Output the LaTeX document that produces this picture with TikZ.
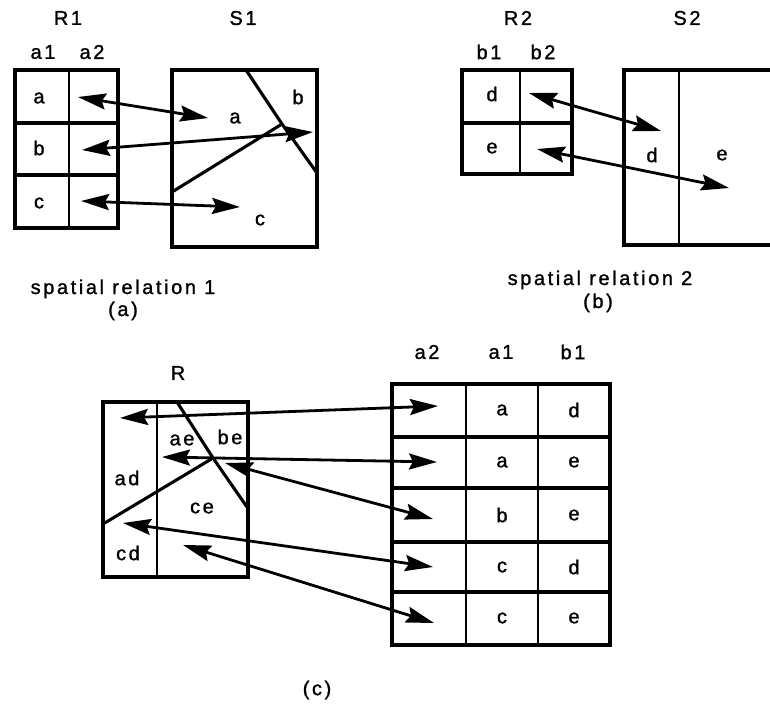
\documentclass[tikz,border=0pt]{standalone}
\usepackage{fontspec}
\setmainfont{Liberation Sans}[LetterSpace=13, FakeBold=1.2]
\usetikzlibrary{arrows.meta}
\begin{document}
\begin{tikzpicture}[x=1pt,y=-1pt,
  lbl/.style={inner sep=0pt, font=\fontsize{20}{24}\selectfont},
  frame/.style={line width=3.3pt},
  divider/.style={line width=2.6pt},
  cut/.style={line width=3.1pt, line join=round},
  link/.style={line width=2.8pt,
    {Stealth[length=28pt,width=16pt,inset=4pt]}-{Stealth[length=28pt,width=16pt,inset=4pt]}},
]
\useasboundingbox (0,0) rectangle (770,709);

% ---------- (a) relation R1 and space S1 ----------
\node[lbl] (R1) at (68,18) {R1};
\node[lbl] (S1) at (243,18) {S1};
\node[lbl] (h-a1) at (43,52) {a1};
\node[lbl] (h-a2) at (92,52) {a2};

\draw[frame] (15,70) rectangle (118,228);
\draw[divider] (69,70) -- (69,228);
\draw[frame] (15,123) -- (118,123) (15,175) -- (118,175);
\node[lbl] (r1-a) at (39,98) {a};
\node[lbl] (r1-b) at (39,148) {b};
\node[lbl] (r1-c) at (39,203) {c};

\draw[frame] (172,70) rectangle (317,247);
\coordinate (s1-top) at (246,70);
\coordinate (s1-mid) at (282,124);
\coordinate (s1-right) at (317,173);
\coordinate (s1-left) at (172,192);
\draw[cut] (s1-top) -- (s1-mid) -- (s1-right);
\draw[cut] (s1-left) -- (s1-mid);
\node[lbl] (s1-a) at (235,118) {a};
\node[lbl] (s1-b) at (298,97) {b};
\node[lbl] (s1-c) at (260,220) {c};

\coordinate (pa1) at (78,97);   \coordinate (qa1) at (208,118);
\coordinate (pb1) at (82,150);  \coordinate (qb1) at (313,132);
\coordinate (pc1) at (81,201);  \coordinate (qc1) at (240,207);
\draw[link] (pa1) -- (qa1);
\draw[link] (pb1) -- (qb1);
\draw[link] (pc1) -- (qc1);

\node[lbl, anchor=base] (cap1) at (123,294) {spatial relation 1};
\node[lbl, anchor=base] (tag-a) at (123,316) {(a)};

% ---------- (b) relation R2 and space S2 ----------
\node[lbl] (R2) at (518,18) {R2};
\node[lbl] (S2) at (687,18) {S2};
\node[lbl] (h-b1) at (489,52) {b1};
\node[lbl] (h-b2) at (543,52) {b2};

\draw[frame] (462,70) rectangle (572,174);
\draw[divider] (520,70) -- (520,174);
\draw[frame] (462,123) -- (572,123);
\node[lbl] (r2-d) at (492,94) {d};
\node[lbl] (r2-e) at (492,148) {e};

\draw[frame] (771,70) -- (624,70) -- (624,245) -- (771,245);
\draw[divider] (679,70) -- (679,245);
\node[lbl] (s2-d) at (652,155) {d};
\node[lbl] (s2-e) at (722,155) {e};

\coordinate (pd2) at (529,93);  \coordinate (qd2) at (661,131);
\coordinate (pe2) at (537,149); \coordinate (qe2) at (729,188);
\draw[link] (pd2) -- (qd2);
\draw[link] (pe2) -- (qe2);

\node[lbl, anchor=base] (cap2) at (600,285) {spatial relation 2};
\node[lbl, anchor=base] (tag-b) at (598,308) {(b)};

% ---------- (c) joined relation R and its space ----------
\node[lbl] (R) at (178,373) {R};
\draw[frame] (103,402) rectangle (248,577);
\draw[divider] (157,402) -- (157,577);
\coordinate (r-top) at (177,402);
\coordinate (r-mid) at (213,458);
\coordinate (r-right) at (247,507);
\coordinate (r-left) at (103,524);
\draw[cut] (r-top) -- (r-mid) -- (r-right);
\draw[cut] (r-left) -- (r-mid);
\node[lbl] (r-ae) at (182,440) {ae};
\node[lbl] (r-be) at (230,437) {be};
\node[lbl] (r-ad) at (127,478) {ad};
\node[lbl] (r-ce) at (202,508) {ce};
\node[lbl] (r-cd) at (128,553) {cd};

\node[lbl] (h-ta2) at (427,352) {a2};
\node[lbl] (h-ta1) at (501,352) {a1};
\node[lbl] (h-tb1) at (573,352) {b1};
\draw[frame] (392,384) rectangle (610,645);
\draw[divider] (466,384) -- (466,645) (538,384) -- (538,645);
\draw[frame] (392,437) -- (610,437) (392,488) -- (610,488)
             (392,542) -- (610,542) (392,592) -- (610,592);
\node[lbl] (t1a) at (502,410) {a}; \node[lbl] (t1b) at (574,410) {d};
\node[lbl] (t2a) at (502,462) {a}; \node[lbl] (t2b) at (574,462) {e};
\node[lbl] (t3a) at (502,515) {b}; \node[lbl] (t3b) at (574,515) {e};
\node[lbl] (t4a) at (502,567) {c}; \node[lbl] (t4b) at (574,567) {d};
\node[lbl] (t5a) at (502,618) {c}; \node[lbl] (t5b) at (574,618) {e};

\coordinate (u1) at (120,418); \coordinate (v1) at (438,406);
\coordinate (u2) at (162,457); \coordinate (v2) at (437,462);
\coordinate (u3) at (225,463); \coordinate (v3) at (433,519);
\coordinate (u4) at (123,523); \coordinate (v4) at (433,567);
\coordinate (u5) at (183,545); \coordinate (v5) at (434,623);
\draw[link] (u1) -- (v1);
\draw[link] (u2) -- (v2);
\draw[link] (u3) -- (v3);
\draw[link] (u4) -- (v4);
\draw[link] (u5) -- (v5);

\node[lbl] (tag-c) at (317,690) {(c)};
\end{tikzpicture}
\end{document}
